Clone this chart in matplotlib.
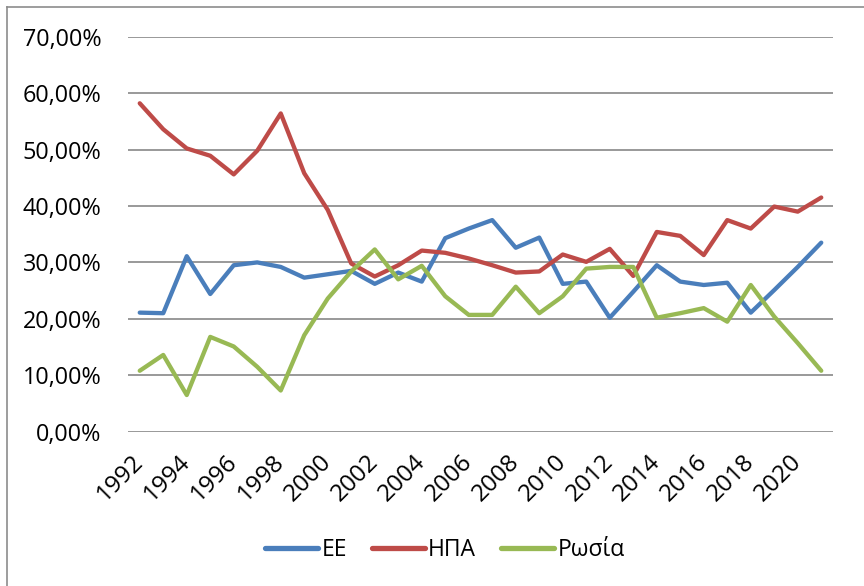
import matplotlib
matplotlib.use('Agg')
import matplotlib.pyplot as plt
from matplotlib.lines import Line2D

years = list(range(1992, 2022))
ee = [21.1, 21.0, 31.1, 24.4, 29.5, 30.0, 29.2, 27.3, 27.9, 28.5,
      26.2, 28.2, 26.6, 34.3, 36.0, 37.5, 32.6, 34.4, 26.2, 26.6,
      20.2, 24.8, 29.5, 26.6, 26.0, 26.4, 21.1, 25.1, 29.2, 33.5]
hpa = [58.2, 53.6, 50.2, 48.9, 45.6, 49.8, 56.4, 45.8, 39.3, 29.8,
       27.5, 29.5, 32.1, 31.7, 30.7, 29.5, 28.2, 28.4, 31.4, 30.1,
       32.4, 27.6, 35.4, 34.7, 31.3, 37.5, 36.0, 39.9, 39.0, 41.5]
russia = [10.8, 13.6, 6.5, 16.8, 15.1, 11.5, 7.3, 17.1, 23.6, 28.4,
          32.3, 27.0, 29.4, 24.0, 20.7, 20.7, 25.7, 21.0, 24.0, 28.9,
          29.2, 29.2, 20.2, 21.0, 21.9, 19.5, 26.0, 20.4, 15.7, 10.8]
series_names = ['ΕΕ', 'ΗΠΑ', 'Ρωσία']
tick_years = list(range(1992, 2021, 2))
y_ticks = [0, 10, 20, 30, 40, 50, 60, 70]

colors = ['#4A7EBB', '#BE4B48', '#98B954']

plt.rcParams['font.family'] = ['Open Sans', 'DejaVu Sans']

W, H = 864, 586
fig = plt.figure(figsize=(W / 100, H / 100), dpi=100)
ax = fig.add_axes([128 / W, (H - 431.7) / H, 705 / W, 395 / H])

for vals, c, name in zip([ee, hpa, russia], colors, series_names):
    ax.plot(years, vals, color=c, lw=3.1, label=name,
            solid_joinstyle='round', solid_capstyle='round')

ax.set_xlim(1991.5, 2021.5)
ax.set_ylim(0, 70)
ax.set_yticks(y_ticks)
ax.set_yticklabels([f"{v:.2f}%".replace('.', ',') for v in y_ticks], fontsize=16.8)
ax.set_xticks(tick_years)
ax.set_xticklabels([str(y) for y in tick_years], rotation=45, ha='right',
                   va='center', rotation_mode='anchor', fontsize=17.5)
ax.tick_params(axis='both', length=0)
ax.tick_params(axis='y', pad=19)
ax.tick_params(axis='x', pad=19)
ax.yaxis.grid(True, color='#878787', lw=1.2)
ax.set_axisbelow(True)
for s in ax.spines.values():
    s.set_visible(False)

leg = fig.legend(loc='center', bbox_to_anchor=(445 / W, 1 - 550 / H), ncol=3,
                 frameon=False, fontsize=16.5, handlelength=2.3,
                 handletextpad=0.15, columnspacing=1.1)
for h in leg.legend_handles:
    h.set_linewidth(3.8)

# outer chart border
fig.add_artist(Line2D([6.5 / W, 6.5 / W], [0, 1 - 7 / H], transform=fig.transFigure,
                      color='#8c8c8c', lw=1.2))
fig.add_artist(Line2D([6.5 / W, 1], [1 - 7 / H, 1 - 7 / H], transform=fig.transFigure,
                      color='#8c8c8c', lw=1.2))

fig.savefig('out.png', dpi=100)
